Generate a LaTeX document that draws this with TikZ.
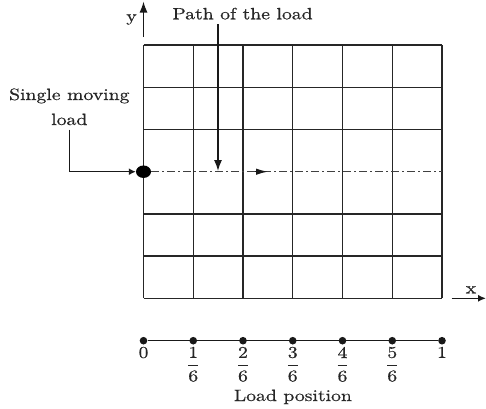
\documentclass[tikz,border=0pt]{standalone}
\usepackage{fontspec}
\setmainfont{lmroman10-regular.otf}[FakeStretch=1.2,FakeBold=0.6]
\usetikzlibrary{arrows.meta,shapes.geometric}
\tikzset{
  gridline/.style={line width=1.4pt, draw=black!85},
  pathline/.style={line width=1.4pt, draw=black!75, dash pattern=on 8pt off 3pt on 2pt off 3pt},
  conn/.style={line width=1.4pt, draw=black!90},
  bigarrow/.style={conn, -{Latex[length=11pt,width=8pt]}},
  smallarrow/.style={conn, -{Latex[length=7pt,width=7pt]}},
  midarrow/.style={conn, -{Latex[length=12pt,width=6.5pt]}},
  xarrow/.style={conn, -{Latex[length=8pt,width=7pt]}},
  lbl/.style={inner sep=0pt, text=black!85, font=\fontsize{16.4}{19}\selectfont},
  dotn/.style={circle, fill=black!90, inner sep=0pt, minimum size=7.6pt},
  loaddot/.style={ellipse, fill=black, inner sep=0pt, minimum width=15pt, minimum height=12.5pt}
}
\begin{document}
\begin{tikzpicture}[x=1pt,y=-1pt]
\useasboundingbox (0,0) rectangle (486,408);
% grid
\foreach \i in {0,...,6}
  \draw[gridline] ({143.5+49.75*\i},45) -- ({143.5+49.75*\i},298.3);
\foreach \j in {0,1,2,4,5,6}
  \draw[gridline] (143.5,{45+42.22*\j}) -- (442,{45+42.22*\j});
% load and its path
\node[loaddot] (load) at (143.5,171.7) {};
\coordinate (pathend) at (442,171.7);
\draw[pathline] (load.east) -- (pathend);
\coordinate (mida) at (255,171.7);
\coordinate (midb) at (268,171.7);
\draw[midarrow] (mida) -- (midb);
% labels with arrows
\node[lbl, anchor=base] (pathlbl) at (242.5,19.3) {Path of the load};
\coordinate (ptip) at (218,171);
\draw[bigarrow] ([yshift=-4.7pt]pathlbl.south -| ptip) -- (ptip);
\node[lbl, anchor=base] (single) at (69.3,100) {Single moving};
\node[lbl, anchor=base] (loadlbl) at (69.3,125) {load};
\draw[smallarrow] ([yshift=-4.3pt]loadlbl.south) |- (load.west);
% axes
\coordinate (ybot) at (143.5,37);
\coordinate (ytop) at (143.5,1.5);
\draw[bigarrow] (ybot) -- (ytop);
\node[lbl, anchor=base] (ylbl) at (131.5,21.5) {y};
\coordinate (xl) at (451.7,298.3);
\coordinate (xr) at (486,298.3);
\draw[xarrow] (xl) -- (xr);
\node[lbl, anchor=base] (xlbl) at (471,293.3) {x};
% number line
\foreach \i in {0,...,6}
  \node[dotn] (p\i) at ({143.5+49.75*\i},340.7) {};
\draw[conn] (p0) -- (p6);
\node[lbl, anchor=north] (l0) at ({143.5},346.7) {0};
\foreach \i in {1,...,5}
  \node[lbl, anchor=north] (l\i) at ({143.5+49.75*\i},346.7) {$\displaystyle\frac{\mbox{\i}}{\mbox{6}}$};
\node[lbl, anchor=north] (l6) at ({143.5+49.75*6},346.7) {1};
\node[lbl, anchor=base] (lp) at (292.9,401) {Load position};
\end{tikzpicture}
\end{document}
